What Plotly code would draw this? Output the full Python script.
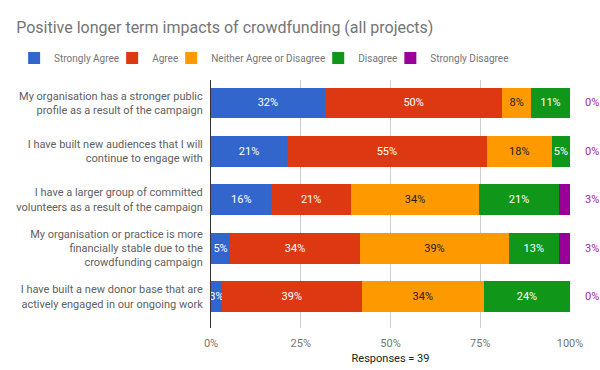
import plotly.graph_objects as go

categories = [
    "My organisation has a stronger public<br>profile as a result of the campaign",
    "I have built new audiences that I will<br>continue to engage with",
    "I have a larger group of committed<br>volunteers as a result of the campaign",
    "My organisation or practice is more<br>financially stable due to the<br>crowdfunding campaign",
    "I have built a new donor base that are<br>actively engaged in our ongoing work",
]
strongly_agree = [32, 21, 16, 5, 3]
agree = [50, 55, 21, 34, 39]
neither = [8, 18, 34, 39, 34]
disagree = [11, 5, 21, 13, 24]
strongly_disagree = [0, 0, 3, 3, 0]

series = [
    ("Strongly Agree", strongly_agree, "#3366CC", "white"),
    ("Agree", agree, "#DC3912", "white"),
    ("Neither Agree or Disagree", neither, "#FF9900", "#222222"),
    ("Disagree", disagree, "#109618", "white"),
    ("Strongly Disagree", strongly_disagree, "#990099", "white"),
]

FONT = "Roboto"

fig = go.Figure()
for name, vals, color, tcolor in series:
    show_text = name != "Strongly Disagree"
    fig.add_trace(go.Bar(
        y=categories, x=vals, name=name, orientation="h",
        marker=dict(color=color, line=dict(width=0)),
        text=[f"{v}%" if (show_text and v > 0) else "" for v in vals],
        textposition="inside", insidetextanchor="middle",
        constraintext="none", textangle=0,
        textfont=dict(color=tcolor, size=11, family=FONT),
        hoverinfo="skip",
    ))

for cat, v in zip(categories, strongly_disagree):
    fig.add_annotation(
        x=1, xref="paper", y=cat, yref="y", text=f"{v}%",
        showarrow=False, xanchor="left", xshift=13,
        font=dict(color="#A0279F", size=11, family=FONT),
    )

fig.update_layout(
    width=600, height=370,
    barmode="stack", barnorm="percent", bargap=0.36,
    margin=dict(l=211, r=30, t=80, b=42, autoexpand=False),
    paper_bgcolor="white", plot_bgcolor="white",
    font=dict(family=FONT, size=11, color="#616161"),
    title=dict(text="Positive longer term impacts of crowdfunding (all projects)",
               x=0.027, xanchor="left", y=0.925, yanchor="middle",
               font=dict(size=16, color="#757575", family=FONT)),
    legend=dict(orientation="h", xref="paper", yref="paper",
                x=-0.515, xanchor="left", y=1.089, yanchor="middle",
                font=dict(size=10, color="#757575"),
                itemwidth=30, indentation=-12,
                traceorder="normal"),
    showlegend=True,
)
fig.update_xaxes(range=[0, 100], tickvals=[0, 25, 50, 75, 100],
                 ticktext=["0%", "25%", "50%", "75%", "100%"],
                 showgrid=True, gridcolor="#CCCCCC", zeroline=False,
                 ticks="", ticklabelstandoff=7,
                 tickfont=dict(color="#757575", size=11),
                 title=dict(text="Responses = 39", standoff=5,
                            font=dict(color="#222222", size=11)),
                 automargin=False, fixedrange=True)
fig.update_yaxes(range=[4.65, -0.475], showline=True, linecolor="#333333",
                 linewidth=1, ticks="", ticklabelstandoff=5,
                 automargin=False,
                 tickfont=dict(color="#616161", size=11))

fig.write_html("out.html", config={"displayModeBar": False},
               post_script="document.body.style.margin='0';")
